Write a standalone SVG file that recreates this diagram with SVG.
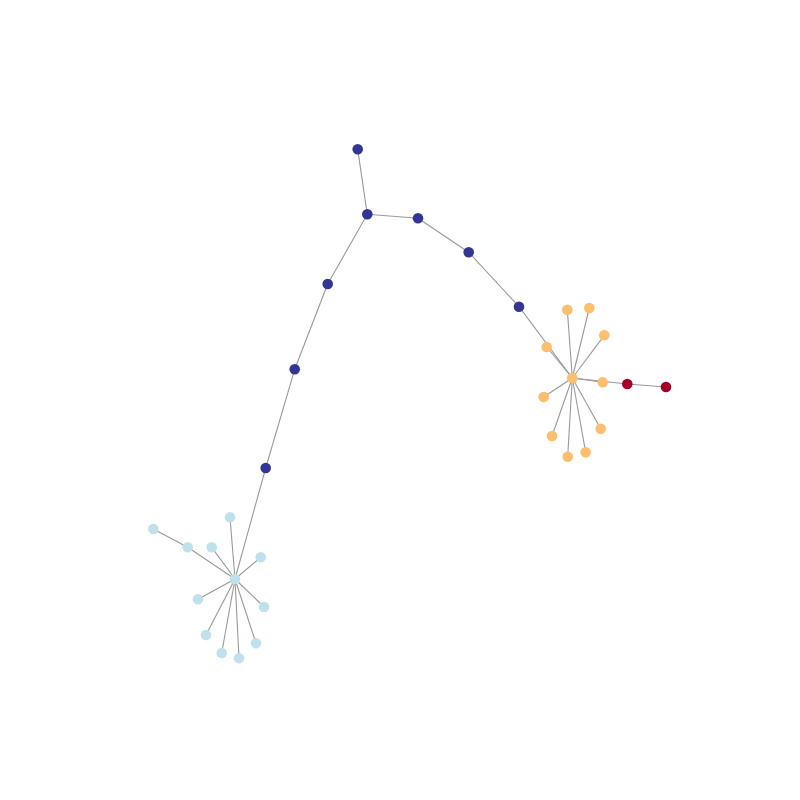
<svg xmlns="http://www.w3.org/2000/svg" width="800" height="800" viewBox="0 0 800 800">
<style>
.e{stroke:#999;stroke-width:1.1;fill:none}
.d{fill:#313695}
.b{fill:#bfe1ec}
.o{fill:#fdbe6e}
.r{fill:#a50026}
</style>
<rect width="800" height="800" fill="#fff"/>
<g id="edges">
<line class="e" x1="357.7" y1="149.3" x2="367.3" y2="214.3"/>
<line class="e" x1="367.3" y1="214.3" x2="418" y2="218.3"/>
<line class="e" x1="418" y1="218.3" x2="468.7" y2="252.3"/>
<line class="e" x1="468.7" y1="252.3" x2="519" y2="306.7"/>
<line class="e" x1="367.3" y1="214.3" x2="327.7" y2="284"/>
<line class="e" x1="327.7" y1="284" x2="294.7" y2="369.3"/>
<line class="e" x1="294.7" y1="369.3" x2="265.7" y2="468"/>
<line class="e" x1="265.7" y1="468" x2="235" y2="579"/>
<line class="e" x1="153.3" y1="529" x2="187.7" y2="547.3"/>
<line class="e" x1="187.7" y1="547.3" x2="235" y2="579"/>
<line class="e" x1="230" y1="517.3" x2="235" y2="579"/>
<line class="e" x1="211.7" y1="547.3" x2="235" y2="579"/>
<line class="e" x1="260.7" y1="557.3" x2="235" y2="579"/>
<line class="e" x1="198" y1="599.3" x2="235" y2="579"/>
<line class="e" x1="264" y1="607" x2="235" y2="579"/>
<line class="e" x1="206" y1="635" x2="235" y2="579"/>
<line class="e" x1="256" y1="643.3" x2="235" y2="579"/>
<line class="e" x1="221.7" y1="653" x2="235" y2="579"/>
<line class="e" x1="239" y1="658.3" x2="235" y2="579"/>
<line class="e" x1="519" y1="306.7" x2="572.3" y2="378"/>
<line class="e" x1="546.7" y1="347" x2="572.3" y2="378"/>
<line class="e" x1="567.3" y1="309.7" x2="572.3" y2="378"/>
<line class="e" x1="589.3" y1="308" x2="572.3" y2="378"/>
<line class="e" x1="604.3" y1="335.3" x2="572.3" y2="378"/>
<line class="e" x1="602.7" y1="382.3" x2="572.3" y2="378"/>
<line class="e" x1="627.3" y1="384" x2="572.3" y2="378"/>
<line class="e" x1="627.3" y1="384" x2="666" y2="387"/>
<line class="e" x1="543.7" y1="397" x2="572.3" y2="378"/>
<line class="e" x1="552" y1="436" x2="572.3" y2="378"/>
<line class="e" x1="600.7" y1="428.7" x2="572.3" y2="378"/>
<line class="e" x1="585.7" y1="452.3" x2="572.3" y2="378"/>
<line class="e" x1="567.7" y1="456.7" x2="572.3" y2="378"/>
</g>
<g id="n1"><circle class="d" cx="357.7" cy="149.3" r="5.3"/></g>
<g id="n2"><circle class="d" cx="367.3" cy="214.3" r="5.3"/></g>
<g id="n3"><circle class="d" cx="418" cy="218.3" r="5.3"/></g>
<g id="n4"><circle class="d" cx="468.7" cy="252.3" r="5.3"/></g>
<g id="n5"><circle class="d" cx="519" cy="306.7" r="5.3"/></g>
<g id="n6"><circle class="d" cx="327.7" cy="284" r="5.3"/></g>
<g id="n7"><circle class="d" cx="294.7" cy="369.3" r="5.3"/></g>
<g id="n8"><circle class="d" cx="265.7" cy="468" r="5.3"/></g>
<g id="b0"><circle class="b" cx="235" cy="579" r="5.3"/></g>
<g id="b1"><circle class="b" cx="153.3" cy="529" r="5.3"/></g>
<g id="b2"><circle class="b" cx="187.7" cy="547.3" r="5.3"/></g>
<g id="b3"><circle class="b" cx="230" cy="517.3" r="5.3"/></g>
<g id="b4"><circle class="b" cx="211.7" cy="547.3" r="5.3"/></g>
<g id="b5"><circle class="b" cx="260.7" cy="557.3" r="5.3"/></g>
<g id="b6"><circle class="b" cx="198" cy="599.3" r="5.3"/></g>
<g id="b7"><circle class="b" cx="264" cy="607" r="5.3"/></g>
<g id="b8"><circle class="b" cx="206" cy="635" r="5.3"/></g>
<g id="b9"><circle class="b" cx="256" cy="643.3" r="5.3"/></g>
<g id="b10"><circle class="b" cx="221.7" cy="653" r="5.3"/></g>
<g id="b11"><circle class="b" cx="239" cy="658.3" r="5.3"/></g>
<g id="o0"><circle class="o" cx="572.3" cy="378" r="5.3"/></g>
<g id="o1"><circle class="o" cx="567.3" cy="309.7" r="5.3"/></g>
<g id="o2"><circle class="o" cx="589.3" cy="308" r="5.3"/></g>
<g id="o3"><circle class="o" cx="604.3" cy="335.3" r="5.3"/></g>
<g id="o4"><circle class="o" cx="546.7" cy="347" r="5.3"/></g>
<g id="o5"><circle class="o" cx="602.7" cy="382.3" r="5.3"/></g>
<g id="o6"><circle class="o" cx="543.7" cy="397" r="5.3"/></g>
<g id="o7"><circle class="o" cx="552" cy="436" r="5.3"/></g>
<g id="o8"><circle class="o" cx="600.7" cy="428.7" r="5.3"/></g>
<g id="o9"><circle class="o" cx="585.7" cy="452.3" r="5.3"/></g>
<g id="o10"><circle class="o" cx="567.7" cy="456.7" r="5.3"/></g>
<g id="r1"><circle class="r" cx="627.3" cy="384" r="5.3"/></g>
<g id="r2"><circle class="r" cx="666" cy="387" r="5.3"/></g>
</svg>
